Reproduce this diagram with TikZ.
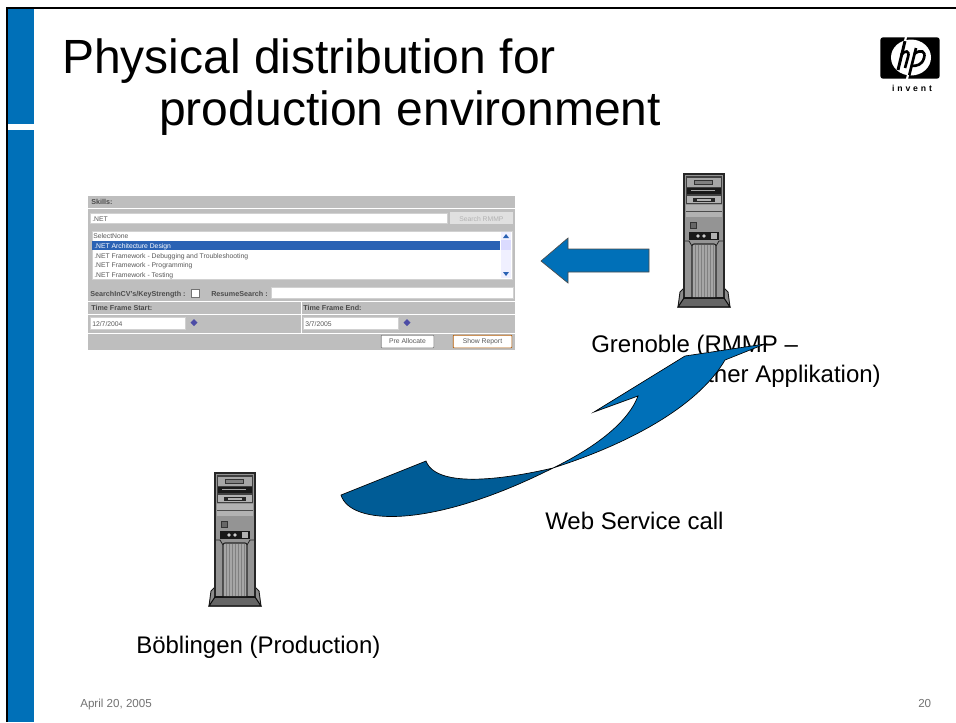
\documentclass[tikz,border=0pt]{standalone}
\usepackage{fontspec}
\setmainfont{Liberation Sans}
\definecolor{hpblue}{HTML}{0070B8}
\definecolor{hpdark}{HTML}{005C96}
\definecolor{shot}{HTML}{BEBEBE}
\definecolor{selblue}{HTML}{2A62B4}
\newcommand{\fsz}[1]{\fontsize{#1}{#1}\selectfont}
\tikzset{
  x=0.75pt,y=-0.75pt,
  title/.style={anchor=base west,inner sep=0,font=\fsz{36}},
  body/.style={anchor=base west,inner sep=0,font=\fsz{18}},
  foot/.style={anchor=base west,inner sep=0,font=\fsz{8.7},text=black!55},
  tiny/.style={anchor=base west,inner sep=0,font=\fsz{5.1},text=black!65},
  tinyb/.style={anchor=base west,inner sep=0,font=\fsz{5.4}\bfseries,text=black!70},
  field/.style={fill=white,draw=black!18,line width=0.4pt},
  pushbtn/.style={fill=white,draw=black!50,line width=0.5pt,rounded corners=0.6pt},
  pics/tower/.style={code={
    % base
    \filldraw[fill=black!45,draw=black!90,line width=0.7pt] (2,118)--(6,114)--(46,114)--(50,118)--(52,133)--(0,133)--cycle;
    \fill[black!60] (0,133)--(6,124)--(46,124)--(52,133)--cycle;
    % body
    \filldraw[fill=black!42,draw=black!85,line width=1.2pt] (6,0)--(46,0)--(46,124)--(6,124)--cycle;
    % drive bays
    \fill[black!75] (8,2) rectangle (44,30);
    \fill[black!35] (9,4) rectangle (43,13);
    \fill[black!80] (16,6) rectangle (35,11);
    \fill[black!50] (17,7) rectangle (34,10);
    \fill[black!90] (9,14) rectangle (43,20);
    \fill[black!35] (13,16) rectangle (37,17);
    \fill[black!30] (9,22) rectangle (43,29);
    \fill[black!85] (15,24) rectangle (37,28);
    \fill[black!30] (19,25) rectangle (33,27);
    % panels
    \fill[black!30] (8,31) rectangle (44,43);
    \draw[black!70,line width=0.4pt] (8,37)--(44,37);
    \fill[black!42] (8,44) rectangle (44,57);
    \filldraw[fill=black!60,draw=black!80,line width=0.5pt] (12,48) rectangle (18,54);
    \fill[black!90] (11,58) rectangle (41,66);
    \fill[black!20] (20,62) circle (1.9);
    \fill[black!20] (26,62) circle (1.9);
    \fill[black!30] (33,59) rectangle (39,65);
    % grille
    \filldraw[fill=black!35,draw=black!85,line width=0.8pt] (14,124)--(14,72) to[out=90,in=180] (16,70)--(36,70) to[out=0,in=90] (38,72)--(38,124)--cycle;
    \foreach \gx in {17,20,...,36} {\draw[black!50,line width=0.5pt] (\gx,71)--(\gx,123);}
    \draw[black!85,line width=0.6pt] (6,67)--(11,67)--(14,72);
    \draw[black!85,line width=0.6pt] (46,67)--(41,67)--(38,72);
    \draw[black!95,line width=0.8pt] (0,133)--(6,124)--(46,124)--(52,133)--cycle;
  }}
}
\begin{document}
\begin{tikzpicture}
\useasboundingbox (0,0) rectangle (956,722);
\fill[white] (0,0) rectangle (956,722);
% frame and side bar
\fill[hpblue] (8,8) rectangle (34,124);
\fill[hpblue] (8,130) rectangle (34,722);
\fill[black] (6,7) rectangle (956,9);
\fill[black] (6,7) rectangle (8,722);
% title
\node[title] (t1) at (62,73) {Physical distribution for};
\node[title] (t2) at (159,125) {production environment};
% logo
\node[fill=black,rounded corners=2pt,minimum width=44.5pt,minimum height=31pt,inner sep=0] (logo) at (910,58) {};
\fill[white] (911,57.5) ellipse (20 and 18);
\draw[black,line width=2.2pt] (905,41)--(898,70);
\draw[black,line width=2pt] (901,55) .. controls (905,50) and (910,50) .. (908,57) -- (905,68);
\draw[black,line width=2pt] (916,48)--(909,76);
\draw[black,line width=2pt] (914,54) .. controls (921,49) and (926,51) .. (924,58) .. controls (922,65) and (917,66) .. (911,66);
\draw[white,line width=1.6pt] (906,37)--(905,41);
\draw[white,line width=1.6pt] (908,75)--(907,79);
\node[inner sep=0,font=\fsz{6.5}\bfseries] (inv) at (912,88) {i\,\,n\,\,v\,\,e\,\,n\,\,t};
% screenshot
\fill[shot] (88,196) rectangle (515,350);
\node[tinyb] (sk) at (91,204) {Skills:};
\draw[white,line width=0.5pt] (88,208)--(515,208);
\path[field] (90,213) rectangle (447,223);
\node[tiny] (nt) at (92,221) {.NET};
\fill[black!12] (450,212) rectangle (513,224);
\node[tiny,text=black!30] (srch) at (459,221) {Search RMMP};
\path[field] (92,231) rectangle (512,279);
\node[tiny] (l0) at (93,238) {SelectNone};
\fill[selblue] (92,241) rectangle (500,250);
\node[tiny,text=white] (l1) at (94,248) {.NET Architecture Design};
\node[tiny] (l2) at (94,258) {.NET Framework - Debugging and Troubleshooting};
\node[tiny] (l3) at (94,267) {.NET Framework - Programming};
\node[tiny] (l4) at (94,277) {.NET Framework - Testing};
\fill[blue!6] (501,232) rectangle (511,278);
\fill[blue!14] (501,240) rectangle (511,250);
\fill[selblue] (506,234)--(509,238)--(503,238)--cycle;
\fill[selblue] (506,276)--(509,272)--(503,272)--cycle;
\node[tinyb] (cv) at (90,296) {SearchInCV's/KeyStrength :};
\filldraw[fill=white,draw=black!55,line width=0.4pt] (191,289) rectangle (199,297);
\node[tinyb] (rs) at (211,296) {ResumeSearch :};
\path[field] (271,287) rectangle (513,298);
\draw[white,line width=0.5pt] (88,301)--(515,301) (88,314)--(515,314) (88,333)--(515,333) (301,301)--(301,333);
\node[tinyb] (ts) at (91,310) {Time Frame Start:};
\node[tinyb] (te) at (303,310) {Time Frame End:};
\path[field] (90,317) rectangle (185,329);
\node[tiny] (d1) at (92,326) {12/7/2004};
\path[field] (303,317) rectangle (398,329);
\node[tiny] (d2) at (305,326) {3/7/2005};
\fill[blue!50!black!70] (194,319)--(197.5,322.5)--(194,326)--(190.5,322.5)--cycle;
\fill[blue!50!black!70] (407,319)--(410.5,322.5)--(407,326)--(403.5,322.5)--cycle;
\node[pushbtn,minimum width=39.5pt,minimum height=9.5pt,inner sep=0,font=\fsz{5.1},text=black!65] (pa) at (407.5,341.5) {Pre Allocate};
\node[pushbtn,draw=orange!70!black,minimum width=44pt,minimum height=9.5pt,inner sep=0,font=\fsz{5.1},text=black!65] (sr) at (482.5,341.5) {Show Report};
% straight arrow
\filldraw[fill=hpblue,draw=black!70,line width=0.5pt] (541,261)--(568,238)--(568,249)--(649,249)--(649,272)--(568,272)--(568,283)--cycle;
% servers
\pic at (678,174) {tower};
\pic at (209,473) {tower};
% labels
\node[body] (g1) at (591,352) {Grenoble (RMMP --};
\node[body,anchor=base east] (g2) at (881,382) {Other Applikation)};
\node[body] (ws) at (545,529) {Web Service call};
\node[body] (bb) at (136,653) {Böblingen (Production)};
% curved arrow
\coordinate (cross) at (553,468);
\filldraw[fill=hpdark,draw=black,line width=0.5pt] (cross) .. controls (510,478) and (437,490) .. (426,461) -- (341,495) .. controls (350,525) and (430,530) .. (cross);
\filldraw[fill=hpblue,draw=black,line width=0.5pt] (cross) .. controls (590,450) and (627,425) .. (638,396) -- (594,412) -- (685,356) -- (765,344) -- (725,360) .. controls (697,408) and (625,445) .. (cross);
% footer
\node[foot] (f1) at (80,707) {April 20, 2005};
\node[foot] (f2) at (918,707) {20};
\end{tikzpicture}
\end{document}
